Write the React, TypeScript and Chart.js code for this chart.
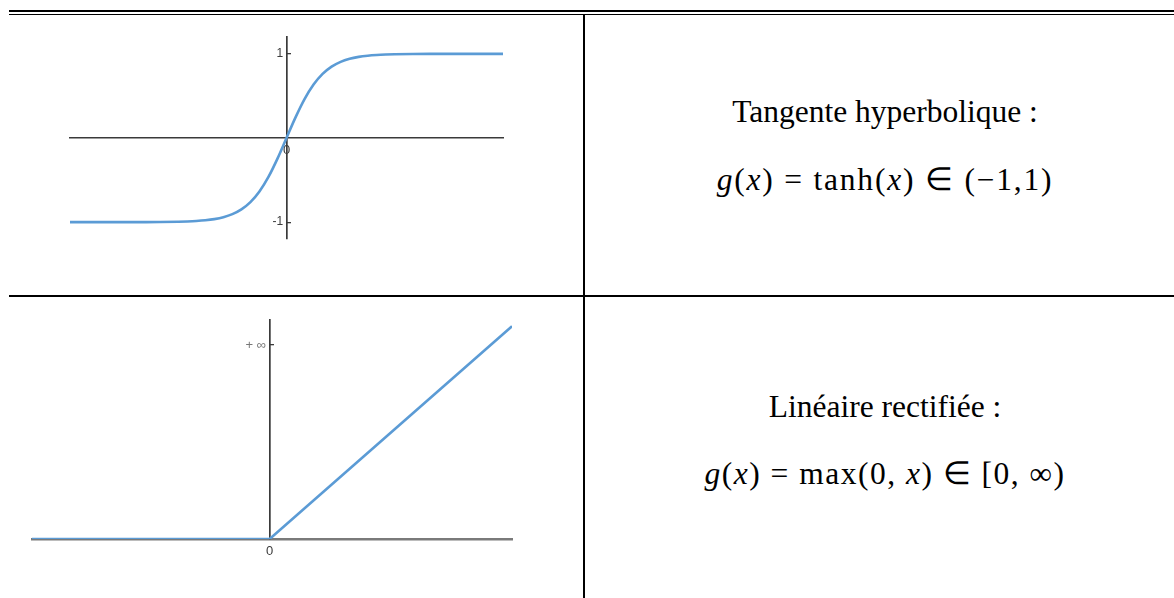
import React, { useEffect, useRef } from "react";
import { Chart, registerables } from "chart.js";

Chart.register(...registerables);

// Hyperbolic tangent, sampled points
const tanhX = [-6, -5, -4.5, -4, -3.5, -3, -2.75, -2.5, -2.25, -2, -1.75, -1.5, -1.25, -1, -0.75, -0.5, -0.25, 0, 0.25, 0.5, 0.75, 1, 1.25, 1.5, 1.75, 2, 2.25, 2.5, 2.75, 3, 3.5, 4, 4.5, 5, 6];
const tanhY = [-1.0, -0.9999, -0.9998, -0.9993, -0.9982, -0.9951, -0.9918, -0.9866, -0.9780, -0.9640, -0.9414, -0.9051, -0.8483, -0.7616, -0.6351, -0.4621, -0.2449, 0, 0.2449, 0.4621, 0.6351, 0.7616, 0.8483, 0.9051, 0.9414, 0.9640, 0.9780, 0.9866, 0.9918, 0.9951, 0.9982, 0.9993, 0.9998, 0.9999, 1.0];
const tanhYTicks = [-1, 1];
const tanhYTickLabels = ["-1", "1"];

// Rectified linear unit, corner points
const reluX = [-10, 0, 10.2];
const reluY = [0, 0, 10.2];
const reluYTicks = [9.3];
const reluYTickLabels = ["+ \u221e"];

const originTicks = [0];
const originTickLabels = ["0"];

const CURVE_BLUE = "#5b9bd5";
const AXIS_DARK = "#3a3a3a";

type PanelOpts = {
  xs: number[];
  ys: number[];
  xMin: number;
  xMax: number;
  yMin: number;
  yMax: number;
  yTicks: number[];
  yTickLabels: string[];
  xAxisColor: string;
  xAxisWidth: number;
  yTickColor: string;
  yTickSize: number;
  padding: { left: number; right: number; top: number; bottom: number };
  smooth: boolean;
};

function buildConfig(p: PanelOpts): any {
  return {
    type: "line",
    data: {
      datasets: [
        {
          data: p.xs.map((x, i) => ({ x, y: p.ys[i] })),
          borderColor: CURVE_BLUE,
          borderWidth: 2.6,
          pointRadius: 0,
          fill: false,
          cubicInterpolationMode: p.smooth ? "monotone" : "default",
          tension: 0,
        },
      ],
    },
    options: {
      animation: false,
      responsive: false,
      events: [],
      layout: { padding: p.padding },
      plugins: { legend: { display: false }, tooltip: { enabled: false } },
      scales: {
        x: {
          type: "linear",
          min: p.xMin,
          max: p.xMax,
          position: { y: 0 },
          afterBuildTicks: (s: any) => {
            s.ticks = originTicks.map((v) => ({ value: v }));
          },
          grid: { display: true, drawOnChartArea: false, drawTicks: false },
          border: { display: true, color: p.xAxisColor, width: p.xAxisWidth },
          ticks: {
            padding: 5,
            color: "#3c3c3c",
            font: { family: "Liberation Sans", size: 13 },
            callback: (_v: any, i: number) => originTickLabels[i],
          },
        },
        y: {
          type: "linear",
          min: p.yMin,
          max: p.yMax,
          position: { x: 0 },
          afterBuildTicks: (s: any) => {
            s.ticks = p.yTicks.map((v) => ({ value: v }));
          },
          grid: {
            display: true,
            drawOnChartArea: false,
            drawTicks: true,
            tickLength: -5,
            color: AXIS_DARK,
            lineWidth: 1.3,
          },
          border: { display: true, color: AXIS_DARK, width: 1.7 },
          ticks: {
            color: p.yTickColor,
            font: { family: "Liberation Sans", size: p.yTickSize },
            callback: (_v: any, i: number) => p.yTickLabels[i] + " ",
          },
        },
      },
    },
  };
}

function Panel(props: { left: number; top: number; width: number; height: number; opts: PanelOpts }) {
  const ref = useRef<HTMLCanvasElement | null>(null);
  useEffect(() => {
    if (!ref.current) return;
    const chart = new Chart(ref.current, buildConfig(props.opts));
    return () => chart.destroy();
  }, []);
  return (
    <canvas
      ref={ref}
      width={props.width}
      height={props.height}
      style={{
        position: "absolute",
        left: props.left,
        top: props.top,
        width: props.width,
        height: props.height,
        filter: "blur(0.45px)",
      }}
    />
  );
}

const serif = "'Liberation Serif', 'Times New Roman', serif";
const TEXT_SIZE = 31.5;

function Line(props: { baseline: number; spacing?: number; children: React.ReactNode }) {
  // line-height equals font size; baseline sits 0.8375em below the top
  const top = props.baseline - TEXT_SIZE * 0.8375;
  return (
    <div
      style={{
        position: "absolute",
        left: 596,
        width: 578,
        top,
        textAlign: "center",
        fontFamily: serif,
        fontSize: TEXT_SIZE,
        lineHeight: `${TEXT_SIZE}px`,
        letterSpacing: props.spacing ? `${props.spacing}px` : undefined,
        whiteSpace: "nowrap",
        color: "#000",
      }}
    >
      {props.children}
    </div>
  );
}

const It = (p: { children: React.ReactNode }) => <i>{p.children}</i>;

export default function App() {
  const tanhOpts: PanelOpts = {
    xs: tanhX,
    ys: tanhY,
    xMin: -6,
    xMax: 6,
    yMin: -1.2,
    yMax: 1.2,
    yTicks: tanhYTicks,
    yTickLabels: tanhYTickLabels,
    xAxisColor: AXIS_DARK,
    xAxisWidth: 1.6,
    yTickColor: "#3c3c3c",
    yTickSize: 12,
    padding: { left: 30, right: 37, top: 12, bottom: 26 },
    smooth: true,
  };
  const reluOpts: PanelOpts = {
    xs: reluX,
    ys: reluY,
    xMin: -10,
    xMax: 10.2,
    yMin: 0,
    yMax: 10.5,
    yTicks: reluYTicks,
    yTickLabels: reluYTickLabels,
    xAxisColor: "#7a7a7a",
    xAxisWidth: 2.6,
    yTickColor: "#777",
    yTickSize: 13,
    padding: { left: 12, right: 18, top: 15, bottom: 36 },
    smooth: false,
  };

  return (
    <div
      style={{
        position: "absolute",
        left: 0,
        top: 0,
        width: 1174,
        height: 598,
        overflow: "hidden",
        background: "#fff",
      }}
    >
      {/* double top rule */}
      <div style={{ position: "absolute", left: 9, top: 10, width: 1165, height: 1.5, background: "#000" }} />
      <div style={{ position: "absolute", left: 9, top: 13.5, width: 1165, height: 1.5, background: "#000" }} />
      {/* column divider */}
      <div style={{ position: "absolute", left: 582.5, top: 15, width: 2, height: 583, background: "#000" }} />
      {/* row divider */}
      <div style={{ position: "absolute", left: 9, top: 294.5, width: 1165, height: 2, background: "#000" }} />

      <Panel left={40} top={25} width={500} height={240} opts={tanhOpts} />
      <Panel left={20} top={305} width={510} height={270} opts={reluOpts} />

      <Line baseline={122}>Tangente hyperbolique :</Line>
      <Line baseline={190} spacing={1.8}>
        <It>g</It>(<It>x</It>) = tanh(<It>x</It>) ∈ (−1,1)
      </Line>
      <Line baseline={417}>Linéaire rectifiée :</Line>
      <Line baseline={484} spacing={1.5}>
        <It>g</It>(<It>x</It>) = max(0, <It>x</It>) ∈ [0, ∞)
      </Line>
    </div>
  );
}
